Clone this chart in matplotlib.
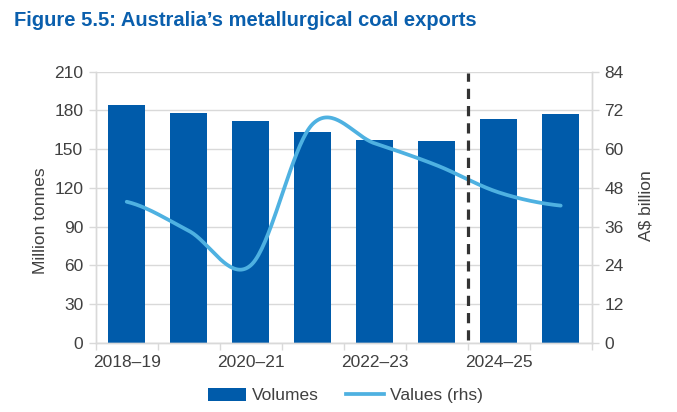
import numpy as np
import matplotlib
matplotlib.use("Agg")
import matplotlib.pyplot as plt
from matplotlib.patches import Patch
from matplotlib.lines import Line2D

categories = ["2018–19", "2019–20", "2020–21", "2021–22", "2022–23", "2023–24", "2024–25", "2025–26"]
volumes = [184, 178, 172, 163, 157, 156, 173, 177]          # Million tonnes
values_rhs = [43.7, 34.7, 24.0, 67.8, 61.8, 55.0, 46.6, 42.5]  # A$ billion
left_ticks = [0, 30, 60, 90, 120, 150, 180, 210]
right_ticks = [0, 12, 24, 36, 48, 60, 72, 84]
shown_labels = ["2018–19", "2020–21", "2022–23", "2024–25"]

FONT = ["Liberation Sans Narrow", "Liberation Sans", "DejaVu Sans"]
plt.rcParams["font.family"] = FONT
TXT = "#404040"
GRID = "#d9d9d9"
BAR = "#005baa"
LINE = "#4eb1e1"

fig = plt.figure(figsize=(6.77, 4.12), dpi=100)
ax = fig.add_axes([0.1414, 0.168, 0.7326, 0.658])
ax2 = ax.twinx()

x = np.arange(len(categories))
ax.bar(x, volumes, width=0.59, color=BAR, zorder=2)
ax.set_xlim(-0.5, len(categories) - 0.5)
ax.set_ylim(0, 210)
ax.set_yticks(left_ticks)
ax.yaxis.grid(True, color=GRID, linewidth=1.0, zorder=0)
ax.set_axisbelow(True)

# smooth line (Catmull-Rom through the data points, like a spreadsheet smoothed line)
def catmull(xs, ys, n=40):
    xs = np.asarray(xs, float); ys = np.asarray(ys, float)
    px = np.concatenate([[2*xs[0]-xs[1]], xs, [2*xs[-1]-xs[-2]]])
    py = np.concatenate([[ys[0]], ys, [ys[-1]]])
    ox, oy = [], []
    for i in range(1, len(px) - 2):
        t = np.linspace(0, 1, n)
        p0x, p1x, p2x, p3x = px[i-1], px[i], px[i+1], px[i+2]
        p0y, p1y, p2y, p3y = py[i-1], py[i], py[i+1], py[i+2]
        b1x, b1y = p1x + (p2x - p0x)/6, p1y + (p2y - p0y)/6
        b2x, b2y = p2x - (p3x - p1x)/6, p2y - (p3y - p1y)/6
        bx = (1-t)**3*p1x + 3*(1-t)**2*t*b1x + 3*(1-t)*t**2*b2x + t**3*p2x
        by = (1-t)**3*p1y + 3*(1-t)**2*t*b1y + 3*(1-t)*t**2*b2y + t**3*p2y
        ox.extend(bx); oy.extend(by)
    return np.array(ox), np.array(oy)

sx, sy = catmull(x, values_rhs)
ax2.plot(sx, sy, color=LINE, linewidth=2.7, solid_capstyle="round", zorder=3)
ax2.set_ylim(0, 84)
ax2.set_yticks(right_ticks)

# forecast divider
ax2.axvline(5.5, ymin=0.01, ymax=0.995, color="#333333", linewidth=2.3,
            linestyle=(0, (3.2, 2.2)), zorder=4)

# x ticks: marks at category boundaries, labels under every other bar
ax.set_xticks(np.arange(-0.5, len(categories) + 0.5, 1.0))
ax.set_xticklabels([])
ax.set_xticks([categories.index(c) for c in shown_labels], minor=True)
ax.set_xticklabels(shown_labels, minor=True)
ax.tick_params(axis="x", which="major", length=5, color=GRID, width=1)
ax.tick_params(axis="x", which="minor", length=0, pad=9, labelsize=12.5, labelcolor=TXT)
ax.tick_params(axis="y", length=5, color=GRID, width=1, labelsize=12.5, labelcolor=TXT, pad=4)
ax2.tick_params(axis="y", length=5, color=GRID, width=1, labelsize=12.5, labelcolor=TXT, pad=4)

for a in (ax, ax2):
    a.spines["top"].set_visible(False)
    for s in ("left", "right", "bottom"):
        a.spines[s].set_color(GRID)
        a.spines[s].set_linewidth(1.0)

ax.set_ylabel("Million tonnes", fontsize=12.5, color=TXT)
ax.yaxis.set_label_coords(-0.097, 0.45)
ax2.set_ylabel("A$ billion", fontsize=12.5, color=TXT)
ax2.yaxis.set_label_coords(1.094, 0.505)

fig.text(0.021, 0.951, "Figure 5.5: Australia’s metallurgical coal exports",
         fontsize=14.5, fontweight="bold", color="#0a5fad", va="center", ha="left")

handles = [Patch(facecolor=BAR, edgecolor="none"),
           Line2D([0], [0], color=LINE, linewidth=2.7)]
fig.legend(handles, ["Volumes", "Values (rhs)"], loc="center", bbox_to_anchor=(0.51, 0.04),
           ncol=2, frameon=False, fontsize=12.5, labelcolor=TXT, handlelength=2.2,
           handleheight=0.8, columnspacing=1.6, handletextpad=0.3)

fig.savefig("out.png", dpi=100)
